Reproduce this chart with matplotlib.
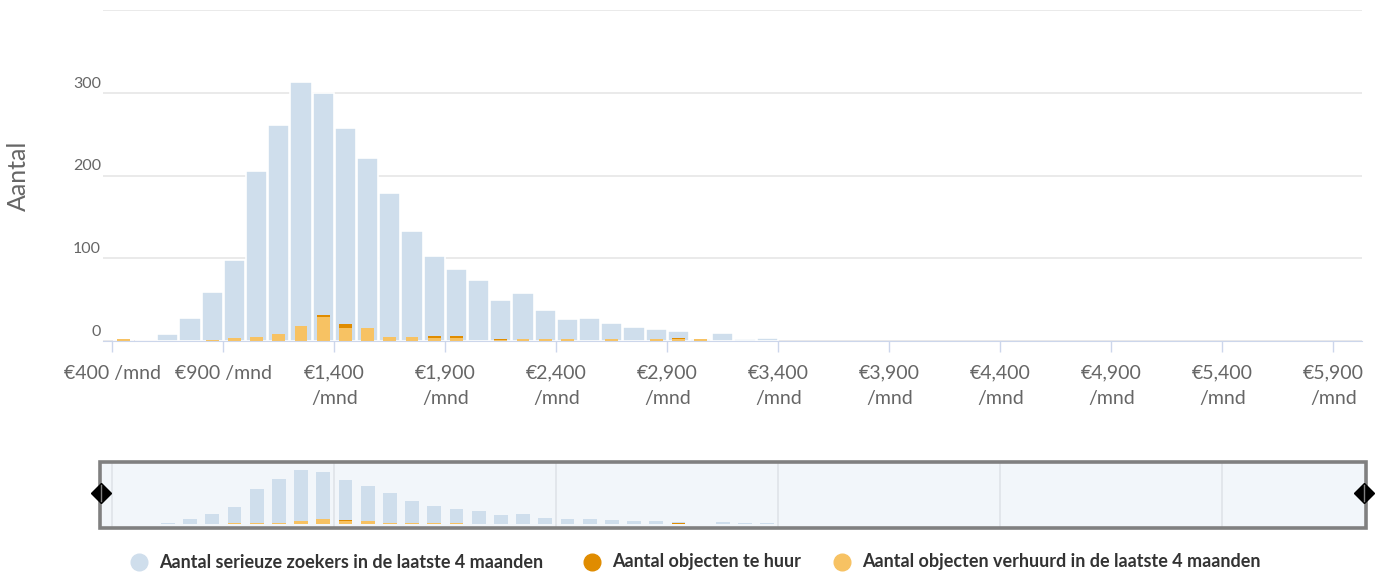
import matplotlib.pyplot as plt
import matplotlib.transforms as mtransforms
from matplotlib.patches import Rectangle

# bin centres (rent in euro per month, bins of 100)
bins = [450, 550, 650, 750, 850, 950, 1050, 1150, 1250, 1350,
        1450, 1550, 1650, 1750, 1850, 1950, 2050, 2150, 2250, 2350,
        2450, 2550, 2650, 2750, 2850, 2950, 3050, 3150, 3250, 3350]
zoekers = [0, 0, 8, 28, 59, 98, 206, 261, 313, 300,
           258, 221, 179, 133, 103, 87, 74, 50, 58, 37,
           26, 28, 22, 17, 15, 12, 2, 10, 3, 4]
te_huur = [0, 0, 0, 0, 0, 0, 0, 0, 0, 31,
           21, 0, 0, 0, 6, 6, 0, 2, 0, 0,
           0, 0, 0, 0, 0, 4, 0, 0, 0, 0]
verhuurd = [2, 0, 0, 0, 1, 4, 5, 8, 18, 29,
            16, 16, 5, 5, 4, 4, 0, 1, 2, 2,
            2, 0, 2, 0, 2, 2, 2, 0, 0, 0]

xticks = [400, 900, 1400, 1900, 2400, 2900, 3400, 3900, 4400, 4900, 5400, 5900]
xlabels = ['€400 /mnd', '€900 /mnd', '€1,400\n/mnd', '€1,900\n/mnd', '€2,400\n/mnd',
           '€2,900\n/mnd', '€3,400\n/mnd', '€3,900\n/mnd', '€4,400\n/mnd',
           '€4,900\n/mnd', '€5,400\n/mnd', '€5,900\n/mnd']
yticks = [0, 100, 200, 300]

labels = ['Aantal serieuze zoekers in de laatste 4 maanden',
          'Aantal objecten te huur',
          'Aantal objecten verhuurd in de laatste 4 maanden']
c_blue = '#cfdeec'
c_dark = '#e08c00'
c_yellow = '#f7c263'

plt.rcParams['font.family'] = ['Lato', 'DejaVu Sans']

W, H = 1379, 573
fig = plt.figure(figsize=(W / 100, H / 100), dpi=100)

def box(x0, y0, x1, y1):
    return [x0 / W, 1 - y1 / H, (x1 - x0) / W, (y1 - y0) / H]

xmin, xmax = 358, 6029

# main chart
ax = fig.add_axes(box(103, 10, 1362, 341))
ax.bar(bins, zoekers, width=96, color=c_blue, edgecolor='white', linewidth=1.2, zorder=2)
ax.bar(bins, te_huur, width=58, color=c_dark, zorder=3)
ax.bar(bins, verhuurd, width=58, color=c_yellow, zorder=4)
ax.set_xlim(xmin, xmax)
ax.set_ylim(0, 400)
ax.set_yticks([0, 100, 200, 300, 400])
ax.yaxis.grid(True, color='#e6e6e6', linewidth=1.2, zorder=0)
ax.set_axisbelow(True)
ax.tick_params(axis='y', length=0, labelleft=False)
for s in ['top', 'right', 'left']:
    ax.spines[s].set_visible(False)
ax.spines['bottom'].set_color('#ccd6eb')
ax.spines['bottom'].set_zorder(5)
ax.set_xticks(xticks)
ax.set_xticklabels(xlabels, fontsize=14, color='#666666')
for lab in ax.get_xticklabels():
    lab.set_linespacing(1.6)
ax.tick_params(axis='x', length=8, width=1, color='#ccd6eb', pad=9, direction='out')

off = mtransforms.ScaledTranslation(-0.02, 0.09, fig.dpi_scale_trans)
trans = mtransforms.blended_transform_factory(ax.transAxes, ax.transData) + off
for v in yticks:
    ax.text(0, v, str(v), transform=trans, ha='right', va='center',
            fontsize=11.5, color='#666666')

fig.text(18 / W, 1 - 176 / H, 'Aantal', rotation=90, ha='center', va='center',
         fontsize=18, color='#666666')

# navigator
nav = fig.add_axes(box(101, 463, 1364, 527))
nav.set_facecolor('#f2f6fa')
nav.bar(bins, zoekers, width=62, color=c_blue, zorder=2)
nav.bar(bins, te_huur, width=62, color=c_dark, zorder=3)
nav.bar(bins, verhuurd, width=62, color=c_yellow, zorder=4)
nav.set_xlim(xmin - 9, xmax + 9)
nav.set_ylim(-18, 355)
nav.set_xticks([400, 1400, 2400, 3400, 4400, 5400])
nav.xaxis.grid(True, color='#dfe3e8', linewidth=1.2, zorder=0)
nav.set_axisbelow(True)
nav.tick_params(length=0, labelbottom=False, labelleft=False)
for s in nav.spines.values():
    s.set_visible(False)

fig.patches.append(Rectangle((100 / W, 1 - 528 / H), 1266 / W, 66 / H,
                             transform=fig.transFigure, fill=False,
                             edgecolor='#808080', linewidth=2.6))
for hx in [101, 1364]:
    fig.lines.append(plt.Line2D([hx / W], [1 - 493 / H], marker='D', markersize=10,
                                color='black', transform=fig.transFigure))
    fig.lines.append(plt.Line2D([hx / W, hx / W], [1 - 485 / H, 1 - 501 / H],
                                color='#808080', linewidth=1, transform=fig.transFigure))

# legend
legend_x = [139, 592, 842]
for lx, lab, col in zip(legend_x, labels, [c_blue, c_dark, c_yellow]):
    fig.lines.append(plt.Line2D([lx / W], [1 - 562 / H], marker='o', markersize=12,
                                color=col, transform=fig.transFigure))
    fig.text((lx + 20) / W, 1 - 562 / H, lab, ha='left', va='center',
             fontsize=13, fontweight='bold', color='#333333')

fig.savefig('out.png', dpi=100)
